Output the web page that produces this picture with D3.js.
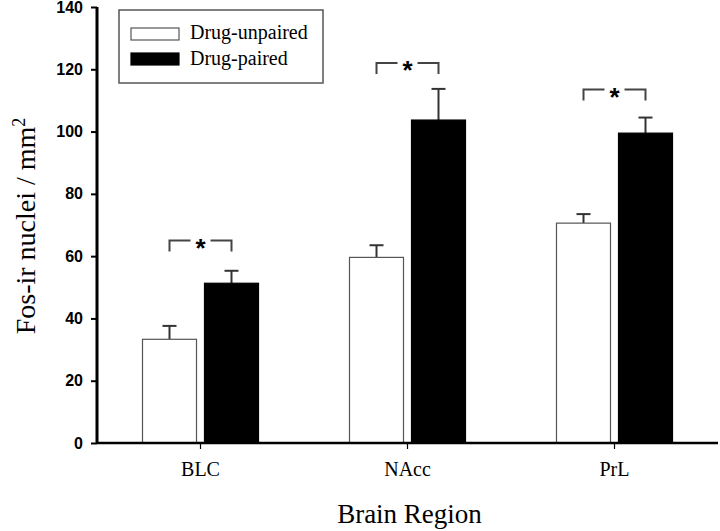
<!DOCTYPE html>
<html>
<head>
<meta charset="utf-8">
<script src="https://cdn.jsdelivr.net/npm/d3@7"></script>
<style>
  body { margin: 0; background: #fff; }
  svg { display: block; }
</style>
</head>
<body>
<div id="chart"></div>
<script>
// dữ liệu
const regions = ["BLC", "NAcc", "PrL"];
const seriesNames = ["Drug-unpaired", "Drug-paired"];
const unpairedMeans = [33.3, 59.6, 70.6];
const unpairedSem = [4.3, 3.9, 2.9];
const pairedMeans = [51.3, 103.7, 99.5];
const pairedSem = [4.0, 10.0, 5.0];
const bracketLevels = [65, 122, 113.5];   // độ cao ngoặc ý nghĩa (*)
const yTicks = [0, 20, 40, 60, 80, 100, 120, 140];

const W = 720, H = 531;
const margin = { top: 7, right: 2, bottom: 88, left: 97 };
const width = W - margin.left - margin.right;
const height = H - margin.top - margin.bottom;

const svg = d3.select("#chart").append("svg")
    .attr("width", W).attr("height", H)
    .append("g")
    .attr("transform", `translate(${margin.left},${margin.top})`);

const x = d3.scaleBand().domain(regions).range([0, width]).padding(0);
const xSub = d3.scaleBand().domain(seriesNames).range([-58, 58]).paddingInner(8 / 62);
const y = d3.scaleLinear().domain([0, 140]).range([height, 0]);

const rows = regions.map((r, i) => ({
    region: r,
    vals: [
        { s: seriesNames[0], mean: unpairedMeans[i], sem: unpairedSem[i], fill: "#fff" },
        { s: seriesNames[1], mean: pairedMeans[i], sem: pairedSem[i], fill: "#000" }
    ],
    bracket: bracketLevels[i]
}));

const groups = svg.selectAll(".grp")
    .data(rows)
    .join("g")
    .attr("class", "grp")
    .attr("transform", d => `translate(${x(d.region) + x.bandwidth() / 2},0)`);

// error bars (chỉ phía trên)
groups.selectAll(".err")
    .data(d => d.vals)
    .join("g")
    .attr("class", "err")
    .each(function(d) {
        const g = d3.select(this);
        const cx = xSub(d.s) + xSub.bandwidth() / 2;
        g.append("line")
            .attr("x1", cx).attr("x2", cx)
            .attr("y1", y(d.mean)).attr("y2", y(d.mean + d.sem))
            .attr("stroke", "#333").attr("stroke-width", 2);
        g.append("line")
            .attr("x1", cx - 7).attr("x2", cx + 7)
            .attr("y1", y(d.mean + d.sem)).attr("y2", y(d.mean + d.sem))
            .attr("stroke", "#333").attr("stroke-width", 2);
    });

groups.selectAll("rect")
    .data(d => d.vals)
    .join("rect")
    .attr("x", d => xSub(d.s))
    .attr("y", d => y(d.mean))
    .attr("width", xSub.bandwidth())
    .attr("height", d => height - y(d.mean))
    .attr("fill", d => d.fill)
    .attr("stroke", d => d.fill === "#000" ? "#000" : "#555")
    .attr("stroke-width", 1.2);

// ngoặc ý nghĩa và dấu sao
groups.each(function(d) {
    const g = d3.select(this);
    const x1 = xSub(seriesNames[0]) + xSub.bandwidth() / 2;
    const x2 = xSub(seriesNames[1]) + xSub.bandwidth() / 2;
    const mid = (x1 + x2) / 2;
    const yb = y(d.bracket);
    const legY = yb + 11;
    g.append("path")
        .attr("d", `M${x1},${legY}V${yb}H${mid - 10}M${mid + 10},${yb}H${x2}V${legY}`)
        .attr("fill", "none").attr("stroke", "#444").attr("stroke-width", 2);
    g.append("text")
        .attr("x", mid).attr("y", yb + 16)
        .attr("text-anchor", "middle")
        .style("font-family", "'Liberation Sans', Arial, sans-serif")
        .style("font-weight", "bold")
        .style("font-size", "26px")
        .text("*");
});

// trục Y
const yAxis = svg.append("g")
    .call(d3.axisLeft(y).tickValues(yTicks).tickSize(6).tickPadding(8));
yAxis.select(".domain").attr("stroke", "#000").attr("stroke-width", 3).attr("d", `M0,0V${height}`);
yAxis.selectAll(".tick line").attr("stroke", "#000").attr("stroke-width", 2);
yAxis.selectAll(".tick text")
    .style("font-family", "'Liberation Sans', Arial, sans-serif")
    .style("font-weight", "bold")
    .style("font-size", "16px")
    .attr("fill", "#000");

// trục X
const xAxis = svg.append("g")
    .attr("transform", `translate(0,${height})`)
    .call(d3.axisBottom(x).tickSize(6).tickPadding(13));
xAxis.select(".domain").attr("stroke", "#000").attr("stroke-width", 2.5).attr("d", `M0,0H${width}`);
xAxis.selectAll(".tick line").attr("stroke", "#000").attr("stroke-width", 1.2);
xAxis.selectAll(".tick text")
    .style("font-family", "'Liberation Serif', 'Times New Roman', serif")
    .style("font-size", "20px")
    .attr("fill", "#000");

// nhãn trục
svg.append("text")
    .attr("x", width / 2 + 2).attr("y", height + 80)
    .attr("text-anchor", "middle")
    .style("font-family", "'Liberation Serif', 'Times New Roman', serif")
    .style("font-size", "27px")
    .text("Brain Region");

const yLab = svg.append("text")
    .attr("transform", `translate(${35 - margin.left},${226 - margin.top}) rotate(-90)`)
    .attr("text-anchor", "middle")
    .style("font-family", "'Liberation Serif', 'Times New Roman', serif")
    .style("font-size", "28px");
yLab.append("tspan").text("Fos-ir nuclei / mm");
yLab.append("tspan").attr("dy", "-0.55em").style("font-size", "18px").text("2");

// chú giải
const leg = svg.append("g").attr("transform", `translate(${119 - margin.left},${10 - margin.top})`);
leg.append("rect")
    .attr("width", 204).attr("height", 73)
    .attr("fill", "#fff").attr("stroke", "#555").attr("stroke-width", 1.5);
seriesNames.forEach((s, i) => {
    leg.append("rect")
        .attr("x", 12).attr("y", 18 + i * 25)
        .attr("width", 48).attr("height", 12)
        .attr("fill", i === 0 ? "#fff" : "#000")
        .attr("stroke", i === 0 ? "#555" : "#000").attr("stroke-width", 1.2);
    leg.append("text")
        .attr("x", 71).attr("y", 29 + i * 26)
        .style("font-family", "'Liberation Serif', 'Times New Roman', serif")
        .style("font-size", "20px")
        .text(s);
});
</script>
</body>
</html>
